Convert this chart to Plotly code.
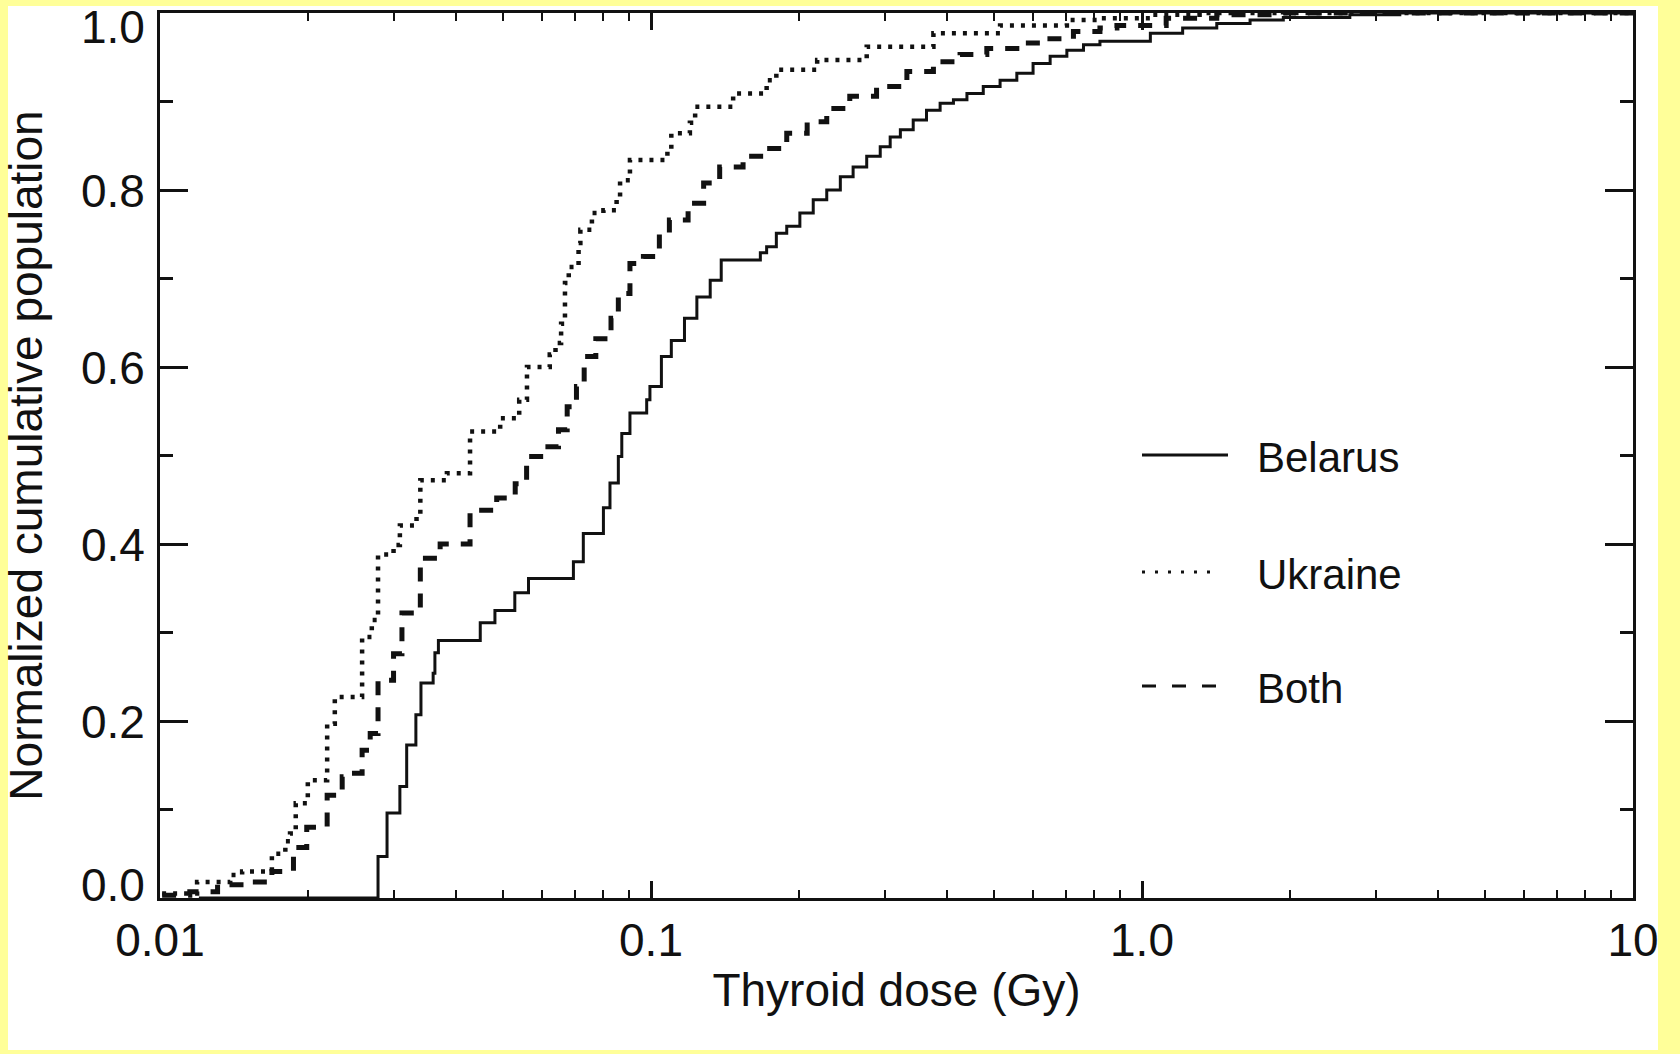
import plotly.graph_objects as go

# ---------------- data ----------------
belarus_dose = [0.012, 0.0278, 0.0290, 0.0308, 0.0318, 0.0332, 0.0340, 0.0360, 0.0363, 0.0369,
                0.0449, 0.0481, 0.0528, 0.0563, 0.0695, 0.0728, 0.0800, 0.0825, 0.0858, 0.0872,
                0.0906, 0.0980, 0.0995, 0.105, 0.110, 0.117, 0.124, 0.132, 0.139, 0.167,
                0.172, 0.180, 0.189, 0.201, 0.214, 0.228, 0.243, 0.258, 0.275, 0.293,
                0.307, 0.322, 0.342, 0.364, 0.388, 0.413, 0.440, 0.475, 0.514, 0.556,
                0.600, 0.650, 0.703, 0.760, 0.821, 1.04, 1.21, 1.42, 1.66, 1.94,
                2.65, 3.35, 10.0]
belarus_frac = [0.0, 0.047, 0.096, 0.126, 0.173, 0.207, 0.243, 0.254, 0.277, 0.291,
                0.311, 0.325, 0.345, 0.361, 0.380, 0.412, 0.441, 0.469, 0.499, 0.525,
                0.548, 0.563, 0.578, 0.612, 0.630, 0.655, 0.679, 0.698, 0.721, 0.729,
                0.736, 0.751, 0.759, 0.774, 0.789, 0.800, 0.815, 0.826, 0.838, 0.849,
                0.860, 0.868, 0.879, 0.890, 0.898, 0.902, 0.909, 0.917, 0.924, 0.932,
                0.943, 0.951, 0.958, 0.964, 0.968, 0.977, 0.983, 0.988, 0.992, 0.995,
                0.998, 1.0, 1.0]

ukraine_dose = [0.0101, 0.0119, 0.0139, 0.0147, 0.0169, 0.0180, 0.0184, 0.0189, 0.0200, 0.0219,
                0.0227, 0.0258, 0.0270, 0.0278, 0.0299, 0.0308, 0.0333, 0.0339, 0.0384, 0.0428,
                0.0493, 0.0539, 0.0559, 0.0622, 0.0639, 0.0656, 0.0668, 0.0680, 0.0712, 0.0718,
                0.0758, 0.0800, 0.0851, 0.0865, 0.0906, 0.108, 0.110, 0.120, 0.123, 0.147,
                0.172, 0.180, 0.218, 0.275, 0.376, 0.514, 0.703, 0.821, 1.04, 1.31, 10.0]
ukraine_frac = [0.005, 0.018, 0.026, 0.030, 0.050, 0.064, 0.073, 0.107, 0.133, 0.197,
                0.227, 0.295, 0.314, 0.388, 0.399, 0.421, 0.433, 0.472, 0.480, 0.527,
                0.542, 0.563, 0.600, 0.614, 0.627, 0.649, 0.695, 0.713, 0.740, 0.755,
                0.774, 0.777, 0.789, 0.811, 0.834, 0.846, 0.864, 0.876, 0.894, 0.909,
                0.924, 0.936, 0.947, 0.962, 0.977, 0.986, 0.992, 0.994, 0.998, 1.0, 1.0]

both_dose = [0.0101, 0.0115, 0.0131, 0.0149, 0.0169, 0.0187, 0.0199, 0.0219, 0.0235, 0.0244,
             0.0258, 0.0268, 0.0278, 0.0299, 0.0311, 0.0339, 0.0372, 0.0428, 0.0485, 0.0529,
             0.0558, 0.0604, 0.0648, 0.0675, 0.0705, 0.0731, 0.0772, 0.0829, 0.0858, 0.0906,
             0.0965, 0.104, 0.109, 0.119, 0.128, 0.138, 0.154, 0.172, 0.189, 0.208,
             0.228, 0.254, 0.288, 0.332, 0.376, 0.426, 0.483, 0.556, 0.630, 0.725,
             0.821, 0.889, 1.12, 1.42, 1.94, 10.0]
both_frac = [0.003, 0.007, 0.015, 0.018, 0.030, 0.057, 0.080, 0.116, 0.137, 0.141,
             0.167, 0.186, 0.246, 0.276, 0.322, 0.384, 0.400, 0.438, 0.452, 0.468,
             0.499, 0.510, 0.529, 0.555, 0.578, 0.612, 0.632, 0.655, 0.683, 0.717,
             0.725, 0.751, 0.766, 0.785, 0.808, 0.826, 0.838, 0.847, 0.864, 0.877,
             0.892, 0.906, 0.917, 0.934, 0.945, 0.953, 0.960, 0.966, 0.971, 0.979,
             0.983, 0.986, 0.994, 0.998, 1.0, 1.0]

x_tickvals = [0.01, 0.1, 1.0, 10.0]
x_ticktext = ["0.01", "0.1", "1.0", "10"]
x_minor = [0.02, 0.03, 0.04, 0.05, 0.06, 0.07, 0.08, 0.09,
           0.2, 0.3, 0.4, 0.5, 0.6, 0.7, 0.8, 0.9,
           2, 3, 4, 5, 6, 7, 8, 9]
y_tickvals = [0.0, 0.2, 0.4, 0.6, 0.8, 1.0]
y_ticktext = ["0.0", "0.2", "0.4", "0.6", "0.8", "1.0"]

series_names = ["Belarus", "Ukraine", "Both"]

# ---------------- figure ----------------
FONT = "Liberation Sans, Arial, Helvetica, sans-serif"
BLACK = "#111111"

fig = go.Figure()
fig.add_trace(go.Scatter(x=belarus_dose, y=belarus_frac, mode="lines", name=series_names[0],
                         line=dict(color=BLACK, width=3, shape="hv")))
fig.add_trace(go.Scatter(x=ukraine_dose, y=ukraine_frac, mode="lines", name=series_names[1],
                         line=dict(color=BLACK, width=4.5, shape="hv", dash="4px,7px")))
fig.add_trace(go.Scatter(x=both_dose, y=both_frac, mode="lines", name=series_names[2],
                         line=dict(color=BLACK, width=5, shape="hv", dash="14px,12px")))

L, R, T, B = 160, 47, 13, 156
W, H = 1680, 1054
pw, ph = W - L - R, H - T - B


def px(x):
    return (x - L) / pw


def py(y):
    return (H - B - y) / ph


shapes = [
    # white sheet on the yellow page
    dict(type="rect", xref="paper", yref="paper", x0=px(8), x1=px(1658), y0=py(1050), y1=py(6),
         fillcolor="white", line=dict(width=0), layer="below"),
]
annotations = []

# y tick labels (the end labels sit inside the frame, as in the original)
y_label_shift = {0.0: 13, 1.0: -14}
for v, t in zip(y_tickvals, y_ticktext):
    annotations.append(dict(text=t, xref="paper", yref="y", x=px(147), y=v,
                            yshift=y_label_shift.get(v, -1),
                            xanchor="right", yanchor="middle", showarrow=False,
                            font=dict(family=FONT, size=46, color=BLACK)))

legend_rows = [
    (series_names[0], 455, 1228, "solid", 3),
    (series_names[1], 572, 1220, "3px,10px", 3),
    (series_names[2], 686, 1224, "14px,16px", 3),
]
for name, yy, xend, dash, wdt in legend_rows:
    shapes.append(dict(type="line", xref="paper", yref="paper", x0=px(1142), x1=px(xend),
                       y0=py(yy), y1=py(yy), line=dict(color=BLACK, width=wdt, dash=dash)))
    annotations.append(dict(text=name, xref="paper", yref="paper", x=px(1255), y=py(yy + 2),
                            xanchor="left", yanchor="middle", showarrow=False,
                            font=dict(family=FONT, size=42, color=BLACK)))

fig.update_layout(
    width=W, height=H,
    margin=dict(l=L, r=R, t=T, b=B, autoexpand=False),
    paper_bgcolor="#FFFF99",
    plot_bgcolor="white",
    showlegend=False,
    font=dict(family=FONT, size=46, color=BLACK),
    shapes=shapes,
    annotations=annotations,
)
fig.update_xaxes(
    type="log", range=[-2, 1], showgrid=False, zeroline=False,
    showline=True, linecolor=BLACK, linewidth=3, mirror="allticks",
    ticks="inside", ticklen=17, tickwidth=3, tickcolor=BLACK,
    tickvals=x_tickvals, ticktext=x_ticktext, tickfont=dict(size=46),
    ticklabeloverflow="allow",
    minor=dict(tickvals=x_minor, ticks="inside", ticklen=8, tickwidth=2, tickcolor=BLACK, showgrid=False),
    title=dict(text="Thyroid dose (Gy)", font=dict(size=46), standoff=9),
    automargin=False,
)
fig.update_yaxes(
    range=[0, 1], showgrid=False, zeroline=False,
    showline=True, linecolor=BLACK, linewidth=3, mirror="allticks",
    ticks="inside", ticklen=28, tickwidth=3, tickcolor=BLACK,
    tickvals=y_tickvals, showticklabels=False,
    minor=dict(dtick=0.1, ticks="inside", ticklen=13, tickwidth=3, tickcolor=BLACK, showgrid=False),
    title=dict(text="Normalized cumulative population", font=dict(size=46), standoff=108),
    automargin=False,
)

fig.write_html("out.html")
